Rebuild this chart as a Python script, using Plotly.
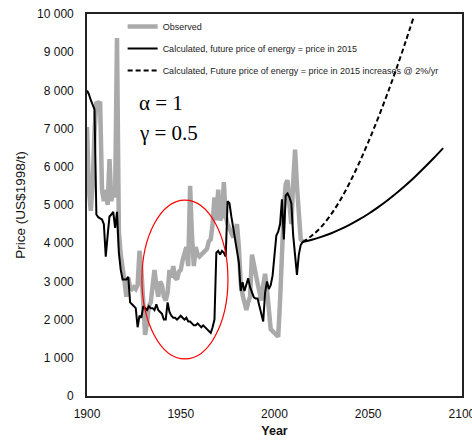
import plotly.graph_objects as go

years_hist = list(range(1900, 2016))
observed = [
    7040, 5400, 4850, 5500, 6900, 7700, 7650, 7700, 5400, 5100,   # 1900-1909
    5400, 5000, 6200, 5100, 5450, 5200, 9370, 4300, 3700, 3400,   # 1910-1919
    3000, 2600, 3100, 2850, 2800, 2850, 2800, 2900, 3800, 3300,   # 1920-1929
    2500, 1600, 1900, 2350, 2450, 2800, 3300, 2900, 2600, 3000,   # 1930-1939
    2900, 2600, 2500, 2700, 3300, 3100, 3400, 3100, 3050, 3250,   # 1940-1949
    3300, 3550, 3700, 3900, 3400, 5500, 4200, 3400, 3900, 3700,   # 1950-1959
    3650, 3700, 3750, 3800, 3850, 4050, 4100, 4500, 5200, 4600,   # 1960-1969
    5400, 4600, 4700, 5600, 4700, 4500, 4400, 4300, 4150, 4300,   # 1970-1979
    4500, 3900, 2950, 2650, 2400, 2250, 2450, 2600, 3700, 3500,   # 1980-1989
    3200, 2950, 2700, 2500, 2900, 3200, 2800, 2300, 1750, 1700,   # 1990-1999
    1650, 1600, 1550, 2500, 3800, 4900, 5550, 5650, 5000, 4500,   # 2000-2009
    5600, 6450, 5500, 4600, 4100, 4050,                           # 2010-2015
]
calculated = [
    8000, 7900, 7750, 7600, 7500, 4750, 4680, 4650, 4620, 4500,   # 1900-1909
    3650, 4200, 4700, 4750, 4820, 4400, 4820, 3750, 3300, 3050,   # 1910-1919
    3040, 3050, 3120, 2450, 2400, 2350, 2300, 1800, 2100, 2050,   # 1920-1929
    2350, 2300, 2250, 2350, 2300, 2300, 2250, 2400, 2250, 2200,   # 1930-1939
    2150, 2000, 2000, 2450, 2200, 2100, 2050, 2050, 2000, 2050,   # 1940-1949
    2100, 2050, 2000, 2050, 1950, 1950, 1900, 1850, 1850, 1900,   # 1950-1959
    1850, 1800, 1850, 1800, 1750, 1700, 1650, 1800, 2000, 3750,   # 1960-1969
    3800, 3700, 3800, 3750, 3650, 5100, 5050, 4700, 4400, 4100,   # 1970-1979
    3800, 3500, 2750, 2980, 2750, 2900, 3080, 2850, 2700, 2580,   # 1980-1989
    2550, 2550, 2350, 2100, 1950, 2700, 3000, 2800, 2900, 3150,   # 1990-1999
    3600, 4200, 4300, 4500, 5150, 4100, 5250, 5300, 5200, 5050,   # 2000-2009
    4200, 3600, 3170, 3700, 3950, 4030,                           # 2010-2015
]

years_const = [2015, 2020, 2025, 2030, 2035, 2040, 2045, 2050, 2055, 2060,
               2065, 2070, 2075, 2080, 2085, 2090]
calc_const = [4030, 4090, 4165, 4255, 4360, 4480, 4615, 4765, 4930, 5110,
              5305, 5515, 5740, 5980, 6230, 6490]

years_grow = [2015, 2020, 2025, 2030, 2035, 2040, 2045, 2050, 2055, 2060,
              2065, 2070, 2074]
calc_grow = [4030, 4200, 4430, 4740, 5120, 5570, 6080, 6640, 7240, 7880,
             8560, 9280, 9880]

y_tickvals = [0, 1000, 2000, 3000, 4000, 5000, 6000, 7000, 8000, 9000, 10000]
y_ticktext = ["0", "1 000", "2 000", "3 000", "4 000", "5 000", "6 000",
              "7 000", "8 000", "9 000", "10 000"]
x_tickvals = [1900, 1950, 2000, 2050, 2100]

# highlighted period (ellipse) bounds
ell_x = (1929.3, 1975.2)
ell_y = (970, 5130)

fig = go.Figure()
fig.add_trace(go.Scatter(
    x=years_hist, y=observed, mode="lines", name="Observed",
    line=dict(color="#aaaaaa", width=4.5), legendgroup="a"))
fig.add_trace(go.Scatter(
    x=years_hist, y=calculated, mode="lines", showlegend=False,
    line=dict(color="black", width=2), legendgroup="b"))
fig.add_trace(go.Scatter(
    x=years_const, y=calc_const, mode="lines", line_shape="spline",
    name="Calculated, future price of energy = price in 2015",
    line=dict(color="black", width=2), legendgroup="b"))
fig.add_trace(go.Scatter(
    x=years_grow, y=calc_grow, mode="lines", line_shape="spline",
    name="Calculated, Future price of energy = price in 2015 increases @ 2%/yr",
    line=dict(color="black", width=2, dash="5px,3px"), legendgroup="c"))

fig.add_shape(type="circle", xref="x", yref="y",
              x0=ell_x[0], x1=ell_x[1], y0=ell_y[0], y1=ell_y[1],
              line=dict(color="red", width=1.2))

fig.add_annotation(x=1926.7, y=7670, xref="x", yref="y", text="α = 1",
                   showarrow=False, xanchor="left", yanchor="middle",
                   font=dict(family="Liberation Serif", size=21, color="black"))
fig.add_annotation(x=1926.7, y=6885, xref="x", yref="y", text="γ = 0.5",
                   showarrow=False, xanchor="left", yanchor="middle",
                   font=dict(family="Liberation Serif", size=21, color="black"))

fig.update_layout(
    width=472, height=443,
    margin=dict(l=87, r=10, t=14, b=47),
    paper_bgcolor="white", plot_bgcolor="white",
    font=dict(family="Liberation Sans", size=12, color="#111111"),
    showlegend=True,
    legend=dict(x=0.095, y=1.005, xanchor="left", yanchor="top",
                bgcolor="rgba(0,0,0,0)", font=dict(size=9, color="#222222"),
                traceorder="grouped", tracegroupgap=3),
    xaxis=dict(range=[1900, 2100.05], tickvals=x_tickvals, showgrid=False,
               zeroline=False, showline=True, linecolor="#222222", linewidth=1.6,
               mirror=True, ticks="", ticklabelstandoff=6,
               ticklabeloverflow="allow", automargin=False,
               title=dict(text="<b>Year</b>", font=dict(size=12.5), standoff=6)),
    yaxis=dict(range=[0, 10000], tickvals=y_tickvals, ticktext=y_ticktext,
               showgrid=False, zeroline=False, showline=True,
               linecolor="#222222", linewidth=1.6, mirror=True, ticks="",
               ticklabelstandoff=9, automargin=False,
               title=dict(text="Price (US$1998/t)", font=dict(size=13.5),
                          standoff=8)),
)

fig.write_html("out.html")
